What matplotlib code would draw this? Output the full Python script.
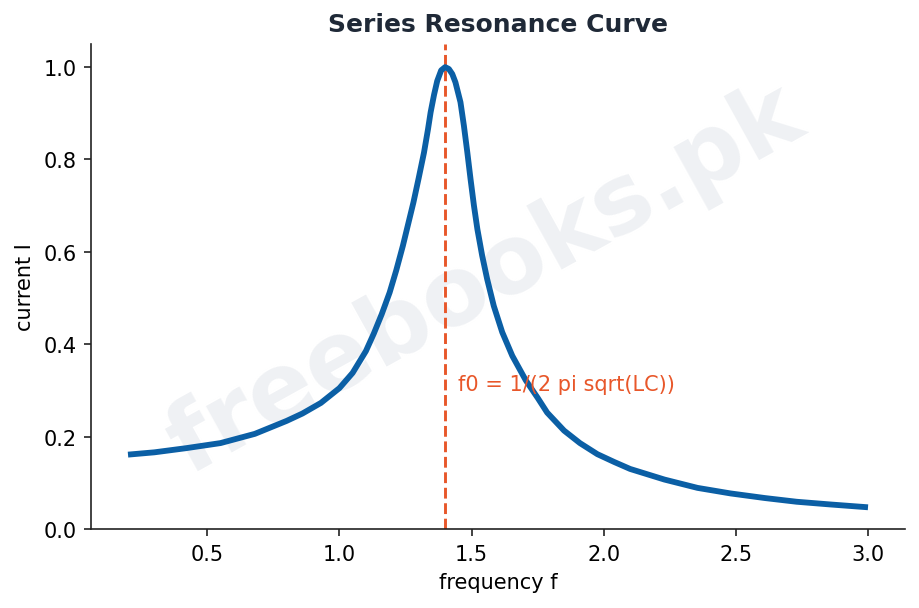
import matplotlib
matplotlib.use("Agg")
import matplotlib.pyplot as plt

# values
freq = [0.2, 0.3, 0.42, 0.55, 0.68, 0.8, 0.86, 0.93, 1.0, 1.05, 1.1, 1.13, 1.16,
        1.19, 1.215, 1.24, 1.26, 1.28, 1.30, 1.32, 1.335, 1.345, 1.358, 1.37,
        1.385, 1.4, 1.414, 1.427, 1.439, 1.458, 1.471, 1.484, 1.496, 1.509, 1.522,
        1.54, 1.559, 1.584, 1.616, 1.654, 1.705, 1.75, 1.786, 1.85, 1.91, 1.976,
        2.04, 2.1, 2.23, 2.355, 2.48, 2.61, 2.73, 2.86, 3.0]
current = [0.161, 0.166, 0.175, 0.186, 0.206, 0.234, 0.250, 0.273, 0.305, 0.338,
           0.385, 0.423, 0.465, 0.512, 0.56, 0.613, 0.66, 0.707, 0.76, 0.815,
           0.865, 0.902, 0.94, 0.97, 0.993, 1.0, 0.996, 0.985, 0.967, 0.924, 0.873,
           0.815, 0.758, 0.700, 0.649, 0.592, 0.541, 0.483, 0.426, 0.375, 0.322,
           0.284, 0.252, 0.213, 0.186, 0.162, 0.145, 0.130, 0.107, 0.089, 0.077,
           0.067, 0.059, 0.053, 0.047]
f0 = 1.4
title = "Series Resonance Curve"
xlabel = "frequency f"
ylabel = "current I"
note = "f0 = 1/(2 pi sqrt(LC))"
watermark = "freebooks.pk"

fig = plt.figure(figsize=(919/150, 609/150), dpi=150)
ax = fig.add_axes([91/919, 1-530/609, (905-91)/919, (530-45)/609])

ax.text(0.484, 0.515, watermark, transform=ax.transAxes, ha="center", va="center",
        rotation=29, fontsize=46, fontweight="bold", color="#eff1f4", zorder=0)

ax.plot(freq, current, color="#0b5fa5", lw=2.8, zorder=3, solid_capstyle="butt",
        solid_joinstyle="round")
ax.axvline(f0, color="#e8572a", ls="--", lw=1.4, zorder=2)
ax.text(f0 + 0.05, 0.3, note, color="#e8572a", fontsize=10)

ax.set_ylim(0, 1.05)
ax.set_xlim(0.06, 3.14)
ax.set_title(title, fontsize=12, fontweight="bold", color="#1f2937", pad=6)
ax.set_xlabel(xlabel, fontsize=10)
ax.set_ylabel(ylabel, fontsize=10)
for s in ["top", "right"]:
    ax.spines[s].set_visible(False)
for s in ["left", "bottom"]:
    ax.spines[s].set_color("#222222")
ax.tick_params(colors="#222222", labelcolor="black")

fig.savefig("out.png", dpi=150)
